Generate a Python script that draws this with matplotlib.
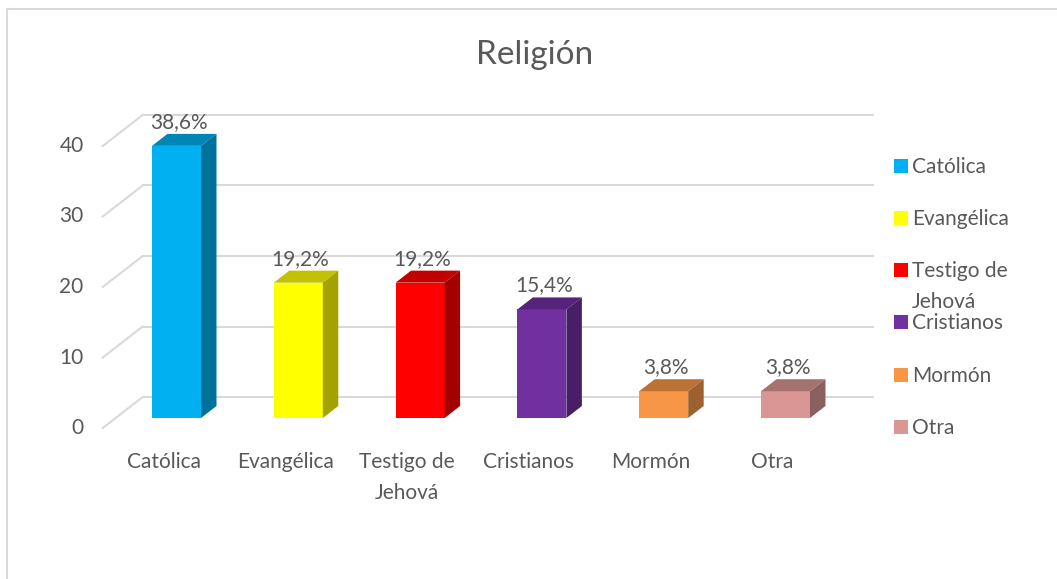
import numpy as np
import matplotlib
matplotlib.use("Agg")
from matplotlib import pyplot as plt
from matplotlib.patches import Polygon, Rectangle
from matplotlib.colors import to_rgb

plt.rcParams['font.family'] = ['Lato', 'DejaVu Sans']

categories = ['Católica', 'Evangélica', 'Testigo de\nJehová', 'Cristianos', 'Mormón', 'Otra']
values = [38.6, 19.2, 19.2, 15.4, 3.8, 3.8]
value_labels = ['38,6%', '19,2%', '19,2%', '15,4%', '3,8%', '3,8%']
colors = ['#00B0F0', '#FFFF00', '#FF0000', '#7030A0', '#F79646', '#D99694']
yticks = [0, 10, 20, 30, 40]
title = 'Religión'

TEXT = '#595959'
GRID = '#D9D9D9'
FS = 15

W, H = 1057, 579
fig = plt.figure(figsize=(W / 100, H / 100), dpi=100)

# axes holds the bar front faces; 3D depth drawn as offsets
x0_px, x1_px = 115.6, 846.4
y0_px, y1_px = 418, 418 - 7.05 * 40
ax = fig.add_axes([x0_px / W, 1 - y0_px / H, (x1_px - x0_px) / W, (y0_px - y1_px) / H])
ax.set_xlim(-0.5, 5.5)
ax.set_ylim(0, 40)
ax.axis('off')

px_x = 6 / (x1_px - x0_px)      # data units per pixel
px_y = 40 / (y0_px - y1_px)
DX, DY = 40 * px_x, 31 * px_y   # full depth vector
d_front, d_bar, d_back = -10 / 31, 12 / 31, 21 / 31


def proj(x, y, d):
    return x + d * DX, y + d * DY


# back wall gridlines and left wall diagonals
for v in yticks:
    xa, ya = proj(-0.5, v, d_back)
    xb, yb = proj(5.5, v, d_back)
    ax.plot([xa, xb], [ya, yb], color=GRID, lw=1.5, clip_on=False, zorder=1)
    xf, yf = proj(-0.5, v, d_front)
    ax.plot([xf, xa], [yf, ya], color=GRID, lw=1.5, clip_on=False, zorder=1)
    ax.text(xf - 19 * px_x, yf, str(v), ha='right', va='center', fontsize=FS,
            color=TEXT)

width = 49 * px_x
x = np.arange(len(values))
ax.bar(x, values, width=width, color=colors, zorder=3, clip_on=False)


def shade(c, f):
    r, g, b = to_rgb(c)
    return (r * f, g * f, b * f)


for xi, v, c, lab in zip(x, values, colors, value_labels):
    l, r = xi - width / 2, xi + width / 2
    top = [(l, v), (r, v), proj(r, v, d_bar), proj(l, v, d_bar)]
    side = [(r, 0), (r, v), proj(r, v, d_bar), proj(r, 0, d_bar)]
    ax.add_patch(Polygon(top, closed=True, fc=shade(c, 0.76), ec='none', zorder=3, clip_on=False))
    ax.add_patch(Polygon(side, closed=True, fc=shade(c, 0.64), ec='none', zorder=3, clip_on=False))
    ax.annotate(lab, (xi, v), xytext=(2, 24), textcoords='offset pixels',
                ha='center', va='center', fontsize=FS, color=TEXT, annotation_clip=False)

# category labels on the front edge
for xi, cat in zip(x, categories):
    xf, yf = proj(xi, 0, d_front)
    ax.text(xf, yf - 24 * px_y, cat, ha='center', va='top', fontsize=FS, color=TEXT,
            linespacing=1.7)

fig.text(535 / W, 1 - 55 / H, title, ha='center', va='center', fontsize=24, color=TEXT)

# legend
leg_y = [166, 218, 270, 322, 375, 427]
leg_labels = ['Católica', 'Evangélica', 'Testigo de\nJehová', 'Cristianos', 'Mormón', 'Otra']
for yy, c, lab in zip(leg_y, colors, leg_labels):
    fig.patches.append(Rectangle((894 / W, 1 - (yy + 7) / H), 14 / W, 14 / H,
                                 transform=fig.transFigure, fc=c, ec='none'))
    fig.text(912 / W, 1 - (yy - 9) / H, lab, ha='left', va='top', fontsize=FS,
             color=TEXT, linespacing=1.7)

# chart area frame (top/left visible)
fig.add_artist(plt.Line2D([7 / W, 1], [1 - 8.5 / H] * 2, transform=fig.transFigure,
                          color='#D9D9D9', lw=1.5))
fig.add_artist(plt.Line2D([7 / W] * 2, [0, 1 - 8.5 / H], transform=fig.transFigure,
                          color='#D9D9D9', lw=1.5))

plt.savefig('out.png', dpi=100)
plt.close()
